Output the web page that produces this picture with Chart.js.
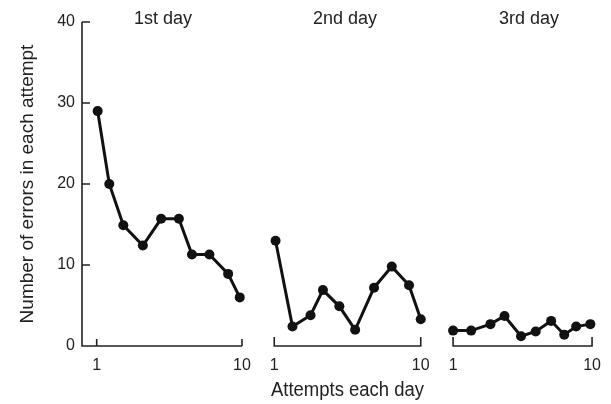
<!DOCTYPE html>
<html>
<head>
<meta charset="utf-8">
<script src="https://cdn.jsdelivr.net/npm/chart.js@4/dist/chart.umd.min.js"></script>
<style>
  body { margin: 0; background: #fff; }
  #wrap { position: relative; width: 611px; height: 404px; }
  #wrap canvas { position: absolute; left: 0; top: 0; }
  .day { position: absolute; top: 8px; font: 18px "Liberation Sans", Arial, sans-serif; line-height: 21px;
         color: #222; transform: translateX(-50%); white-space: nowrap; }
</style>
</head>
<body>
<div id="wrap">
  <canvas id="c1" width="611" height="404"></canvas>
  <canvas id="c2" width="611" height="404"></canvas>
  <canvas id="c3" width="611" height="404"></canvas>
  <div class="day" style="left:163px">1st day</div>
  <div class="day" style="left:345px">2nd day</div>
  <div class="day" style="left:529px">3rd day</div>
</div>
<script>
// values (x = where each attempt sits on its day axis)
const yTicks = [0, 10, 20, 30, 40];
const xTickLabels = [1, 10];
const day1X = [1.06, 1.78, 2.65, 3.86, 4.99, 6.09, 6.9, 7.98, 9.14, 9.86];
const day1Y = [29.0, 20.0, 14.9, 12.4, 15.7, 15.7, 11.3, 11.3, 8.9, 6.0];
const day2X = [1.08, 2.12, 3.23, 3.99, 5.0, 5.97, 7.13, 8.22, 9.28, 10.0];
const day2Y = [13.0, 2.4, 3.8, 6.9, 4.9, 2.0, 7.2, 9.8, 7.5, 3.3];
const day3X = [1.0, 2.17, 3.42, 4.33, 5.4, 6.35, 7.35, 8.2, 8.97, 9.89];
const day3Y = [1.9, 1.9, 2.7, 3.7, 1.2, 1.8, 3.1, 1.4, 2.4, 2.7];

const FONT = '"Liberation Sans", Arial, sans-serif';
const INK = '#222';

// axis frame: L-shaped axis with inward ticks on day 1, a bracket under days 2 and 3
const framePlugin = {
  id: 'frame',
  beforeDatasetsDraw(chart, args, opts) {
    const { ctx, scales: { x, y } } = chart;
    const y0 = y.getPixelForValue(0);
    ctx.save();
    ctx.strokeStyle = INK;
    ctx.lineWidth = 1.6;
    ctx.beginPath();
    if (opts.withY) {
      const left = chart.chartArea.left;
      ctx.moveTo(left, y.getPixelForValue(yTicks[yTicks.length - 1]));
      ctx.lineTo(left, y0);
      ctx.lineTo(x.getPixelForValue(xTickLabels[1]), y0);
      yTicks.forEach(v => { const p = y.getPixelForValue(v); ctx.moveTo(left, p); ctx.lineTo(left + 8, p); });
      xTickLabels.forEach(v => { const p = x.getPixelForValue(v); ctx.moveTo(p, y0); ctx.lineTo(p, y0 - 7); });
    } else {
      const a = x.getPixelForValue(xTickLabels[0]), b = x.getPixelForValue(xTickLabels[1]);
      ctx.moveTo(a, y0 - 9); ctx.lineTo(a, y0); ctx.lineTo(b, y0); ctx.lineTo(b, y0 - 9);
    }
    ctx.stroke();
    ctx.restore();
  }
};

function makePanel(id, xs, ys, cfg) {
  const pts = xs.map((v, i) => ({ x: v, y: ys[i] }));
  return new Chart(document.getElementById(id), {
    type: 'line',
    data: { datasets: [{
      data: pts, borderColor: '#111', borderWidth: 3, tension: 0, clip: false,
      pointRadius: 5, pointBackgroundColor: '#111', pointBorderWidth: 0
    }]},
    options: {
      responsive: false, animation: false, devicePixelRatio: 1,
      layout: { autoPadding: false, padding: { left: cfg.padLeft, right: cfg.padRight, top: 22, bottom: 0 } },
      plugins: { legend: { display: false }, tooltip: { enabled: false }, frame: { withY: cfg.withY } },
      scales: {
        x: {
          type: 'linear', min: cfg.xMin, max: cfg.xMax,
          afterBuildTicks: s => { s.ticks = xTickLabels.map(v => ({ value: v })); },
          afterFit: s => { s.height = 58; },
          grid: { display: false, drawTicks: false }, border: { display: false },
          ticks: { padding: 10, color: INK, font: { family: FONT, size: 16 }, maxRotation: 0 },
          title: { display: !!cfg.xTitle, text: cfg.xTitle || '', color: INK,
                   font: { family: FONT, size: 20 }, padding: { top: 0, bottom: 2 } }
        },
        y: {
          display: cfg.withY, min: 0, max: 40,
          afterBuildTicks: s => { s.ticks = yTicks.map(v => ({ value: v })); },
          afterFit: s => { s.width = cfg.withY ? 82 : 0; },
          grid: { display: false, drawTicks: false }, border: { display: false },
          ticks: { padding: 7, color: INK, font: { family: FONT, size: 16 } },
          title: { display: cfg.withY, text: 'Number of errors in each attempt', color: INK,
                   font: { family: FONT, size: 19 }, padding: { top: 16, bottom: 0 } }
        }
      }
    },
    plugins: [framePlugin]
  });
}

makePanel('c1', day1X, day1Y, { withY: true, xMin: 0.09, xMax: 10, padLeft: 0, padRight: 369 });
makePanel('c2', day2X, day2Y, { withY: false, xMin: 0.8, xMax: 10.2, padLeft: 271, padRight: 187, xTitle: 'Attempts each day' });
makePanel('c3', day3X, day3Y, { withY: false, xMin: 0.8, xMax: 10.1, padLeft: 450, padRight: 5 });
</script>
</body>
</html>
